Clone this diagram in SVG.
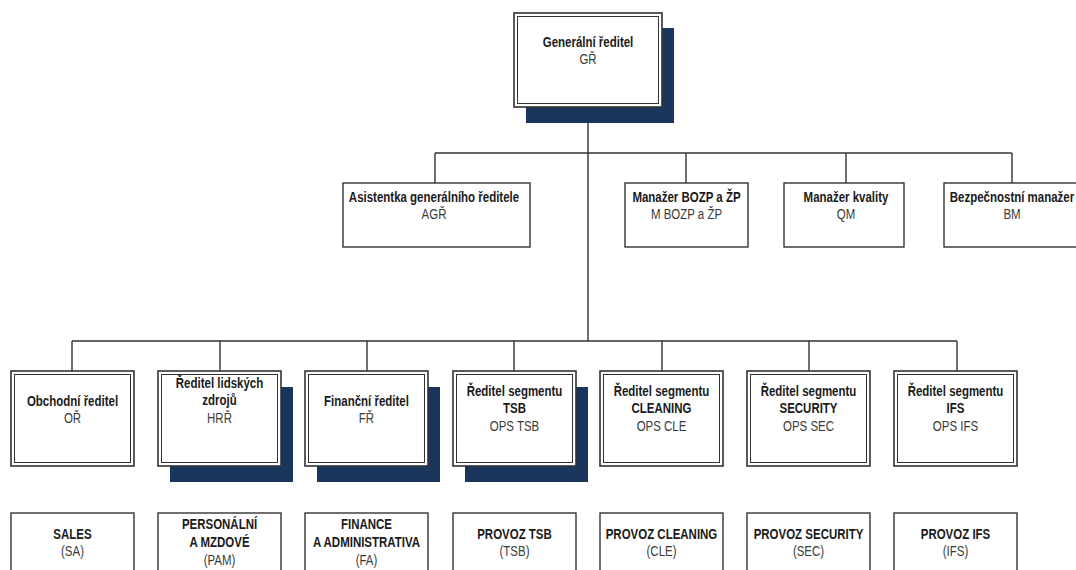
<svg xmlns="http://www.w3.org/2000/svg" width="1076" height="570" viewBox="0 0 1076 570">
<style>
.t{font-family:"Liberation Sans Narrow","Liberation Sans",Arial,sans-serif;font-size:14px;text-anchor:middle;fill:#1a1a1a}
.b{font-weight:bold}
.r{fill:#3a3a3a}
.sh{fill:#1b365d}
.box{fill:#fff;stroke:#333;stroke-width:1.4}
.out{fill:#fff;stroke:#333;stroke-width:1.6}
.in{fill:none;stroke:#333;stroke-width:1}
.line{stroke:#333;stroke-width:1.4;fill:none}
</style>
<rect width="1076" height="570" fill="#fff"/>

<g id="connectors">
<path class="line" d="M588 107V341"/>
<path class="line" d="M435 153H1012M435 153V183M686 153V183M846 153V183M1012 153V183"/>
<path class="line" d="M72 341H957M72 341V371M220 341V371M367 341V371M514 341V371M662 341V371M809 341V371M957 341V371"/>
</g>

<g id="n-gr">
<rect class="sh" x="526" y="28" width="148" height="95"/>
<rect class="out" x="514" y="13" width="148" height="94"/>
<rect class="in" x="517.5" y="16.5" width="141" height="87"/>
<g transform="translate(588 0) scale(0.82 1)">
<text class="t b" x="0" y="47">Generální ředitel</text>
<text class="t r" x="0" y="64">GŘ</text>
</g>
</g>

<g id="n-agr">
<rect class="box" x="343" y="183" width="187" height="64"/>
<g transform="translate(434 0) scale(0.82 1)">
<text class="t b" x="0" y="202">Asistentka generálního ředitele</text>
<text class="t r" x="0" y="219">AGŘ</text>
</g>
</g>
<g id="n-bozp">
<rect class="box" x="625" y="183" width="123" height="64"/>
<g transform="translate(686.5 0) scale(0.82 1)">
<text class="t b" x="0" y="202">Manažer BOZP a ŽP</text>
<text class="t r" x="0" y="219">M BOZP a ŽP</text>
</g>
</g>
<g id="n-qm">
<rect class="box" x="784" y="183" width="120" height="64"/>
<g transform="translate(846 0) scale(0.82 1)">
<text class="t b" x="0" y="202">Manažer kvality</text>
<text class="t r" x="0" y="219">QM</text>
</g>
</g>
<g id="n-bm">
<rect class="box" x="944" y="183" width="140" height="64"/>
<g transform="translate(1012 0) scale(0.82 1)">
<text class="t b" x="0" y="202">Bezpečnostní manažer</text>
<text class="t r" x="0" y="219">BM</text>
</g>
</g>

<g id="n-or">
<rect class="out" x="11" y="371" width="123" height="95"/>
<rect class="in" x="14.5" y="374.5" width="116" height="88"/>
<g transform="translate(72.5 0) scale(0.82 1)">
<text class="t b" x="0" y="406">Obchodní ředitel</text>
<text class="t r" x="0" y="423">OŘ</text>
</g>
</g>
<g id="n-hrr">
<rect class="sh" x="170" y="387" width="123" height="95"/>
<rect class="out" x="158" y="371" width="123" height="95"/>
<rect class="in" x="161.5" y="374.5" width="116" height="88"/>
<g transform="translate(219.5 0) scale(0.82 1)">
<text class="t b" x="0" y="388">Ředitel lidských</text>
<text class="t b" x="0" y="405">zdrojů</text>
<text class="t r" x="0" y="423">HRŘ</text>
</g>
</g>
<g id="n-fr">
<rect class="sh" x="317" y="387" width="123" height="95"/>
<rect class="out" x="305" y="371" width="123" height="95"/>
<rect class="in" x="308.5" y="374.5" width="116" height="88"/>
<g transform="translate(366.5 0) scale(0.82 1)">
<text class="t b" x="0" y="406">Finanční ředitel</text>
<text class="t r" x="0" y="423">FŘ</text>
</g>
</g>
<g id="n-tsb">
<rect class="sh" x="465" y="387" width="123" height="95"/>
<rect class="out" x="453" y="371" width="123" height="95"/>
<rect class="in" x="456.5" y="374.5" width="116" height="88"/>
<g transform="translate(514.5 0) scale(0.82 1)">
<text class="t b" x="0" y="396">Ředitel segmentu</text>
<text class="t b" x="0" y="413">TSB</text>
<text class="t r" x="0" y="431">OPS TSB</text>
</g>
</g>
<g id="n-cle">
<rect class="out" x="600" y="371" width="123" height="95"/>
<rect class="in" x="603.5" y="374.5" width="116" height="88"/>
<g transform="translate(661.5 0) scale(0.82 1)">
<text class="t b" x="0" y="396">Ředitel segmentu</text>
<text class="t b" x="0" y="413">CLEANING</text>
<text class="t r" x="0" y="431">OPS CLE</text>
</g>
</g>
<g id="n-sec">
<rect class="out" x="747" y="371" width="123" height="95"/>
<rect class="in" x="750.5" y="374.5" width="116" height="88"/>
<g transform="translate(808.5 0) scale(0.82 1)">
<text class="t b" x="0" y="396">Ředitel segmentu</text>
<text class="t b" x="0" y="413">SECURITY</text>
<text class="t r" x="0" y="431">OPS SEC</text>
</g>
</g>
<g id="n-ifs">
<rect class="out" x="894" y="371" width="123" height="95"/>
<rect class="in" x="897.5" y="374.5" width="116" height="88"/>
<g transform="translate(955.5 0) scale(0.82 1)">
<text class="t b" x="0" y="396">Ředitel segmentu</text>
<text class="t b" x="0" y="413">IFS</text>
<text class="t r" x="0" y="431">OPS IFS</text>
</g>
</g>

<g id="n-sa">
<rect class="box" x="11" y="513" width="123" height="70"/>
<g transform="translate(72.5 0) scale(0.82 1)">
<text class="t b" x="0" y="539">SALES</text>
<text class="t r" x="0" y="556">(SA)</text>
</g>
</g>
<g id="n-pam">
<rect class="box" x="158" y="513" width="123" height="70"/>
<g transform="translate(219.5 0) scale(0.82 1)">
<text class="t b" x="0" y="529">PERSONÁLNÍ</text>
<text class="t b" x="0" y="547">A MZDOVÉ</text>
<text class="t r" x="0" y="565">(PAM)</text>
</g>
</g>
<g id="n-fa">
<rect class="box" x="305" y="513" width="123" height="70"/>
<g transform="translate(366.5 0) scale(0.82 1)">
<text class="t b" x="0" y="529">FINANCE</text>
<text class="t b" x="0" y="547">A ADMINISTRATIVA</text>
<text class="t r" x="0" y="565">(FA)</text>
</g>
</g>
<g id="n-ptsb">
<rect class="box" x="453" y="513" width="123" height="70"/>
<g transform="translate(514.5 0) scale(0.82 1)">
<text class="t b" x="0" y="539">PROVOZ TSB</text>
<text class="t r" x="0" y="556">(TSB)</text>
</g>
</g>
<g id="n-pcle">
<rect class="box" x="600" y="513" width="123" height="70"/>
<g transform="translate(661.5 0) scale(0.82 1)">
<text class="t b" x="0" y="539">PROVOZ CLEANING</text>
<text class="t r" x="0" y="556">(CLE)</text>
</g>
</g>
<g id="n-psec">
<rect class="box" x="747" y="513" width="123" height="70"/>
<g transform="translate(808.5 0) scale(0.82 1)">
<text class="t b" x="0" y="539">PROVOZ SECURITY</text>
<text class="t r" x="0" y="556">(SEC)</text>
</g>
</g>
<g id="n-pifs">
<rect class="box" x="894" y="513" width="123" height="70"/>
<g transform="translate(955.5 0) scale(0.82 1)">
<text class="t b" x="0" y="539">PROVOZ IFS</text>
<text class="t r" x="0" y="556">(IFS)</text>
</g>
</g>
</svg>
